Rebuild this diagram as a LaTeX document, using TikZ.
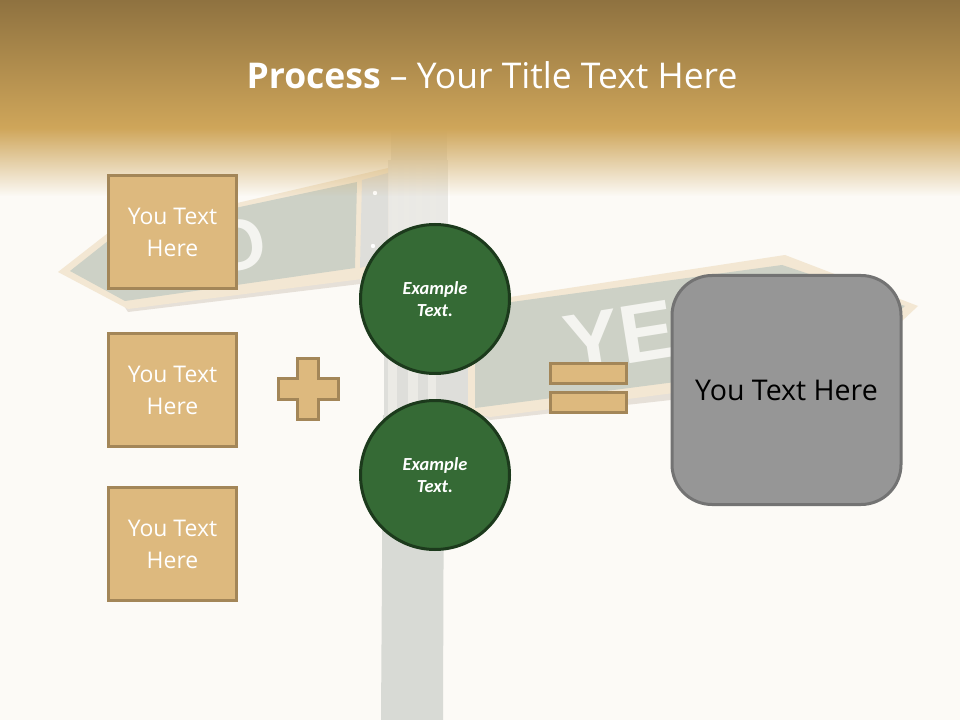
\documentclass[tikz,border=0pt]{standalone}
\usepackage{fontspec}
\setmainfont{Open Sans}
\newfontfamily\carl{Carlito}
\newfontfamily\signf{Liberation Sans}
\usetikzlibrary{fadings,shadings}
\definecolor{bgc}{HTML}{FCFAF6}
\definecolor{hdtop}{HTML}{8F7240}
\definecolor{hdbot}{HTML}{CFA65A}
\definecolor{boxf}{HTML}{DDB97E}
\definecolor{boxd}{HTML}{A38658}
\definecolor{circf}{HTML}{356A35}
\definecolor{circd}{HTML}{1C3A1C}
\definecolor{greyf}{HTML}{969696}
\definecolor{greyd}{HTML}{737373}
\definecolor{signo}{HTML}{F3E7D3}
\definecolor{signg}{HTML}{CDD1C6}
\definecolor{signt}{HTML}{F4F4F0}
\definecolor{signs}{HTML}{E6E0D8}
\definecolor{polec}{HTML}{D8DAD5}
\definecolor{plate}{HTML}{DEDEDA}
\definecolor{rib}{HTML}{EBEAE5}
\tikzfading[name=hdfade, top color=transparent!0, bottom color=transparent!100]
\tikzset{
  txtbox/.style={draw=boxd, line width=2.25pt*0.75, fill=boxf, minimum width=128*0.75pt, minimum height=113*0.75pt, inner sep=0pt, align=center, text=white, font=\fontsize{17.2}{24}\selectfont},
  excirc/.style={circle, draw=circd, line width=2.25pt, fill=circf, minimum size=149*0.75pt, inner sep=0pt, align=center, text=white, font=\carl\bfseries\itshape\fontsize{13.8}{17}\selectfont},
  symb/.style={draw=boxd, line width=2.25pt, fill=boxf},
  signtxt/.style={text=signt, inner sep=0pt, font=\signf\bfseries\fontsize{54}{54}\selectfont},
}
\begin{document}
\begin{tikzpicture}[x=0.75pt,y=-0.75pt]
\useasboundingbox (0,0) rectangle (960,720);
\fill[bgc] (0,0) rectangle (960,720);
% pole
\fill[polec] (383,415) -- (444,415) -- (443,720) -- (381,720) -- cycle;
\fill[plate!70!bgc] (391,125) rectangle (447,165);
\fill[plate!60!bgc] (388,160) rectangle (448,262);
\foreach \a/\b in {392/398,404/409,416/422,430/436}{\fill[rib] (\a,165) rectangle (\b,262);}
\fill[plate] (384,350) rectangle (470,420);
\foreach \a/\b in {388/397,408/418,428/436}{\fill[rib] (\a,350) rectangle (\b,420);}
\fill[white!60!bgc] (448,170) rectangle (450,230);
% NO sign
\fill[signs] (128,312) -- (360,284) -- (360,278) -- (120,300) -- cycle;
\fill[signo] (58,272) -- (108,233) -- (388,168) -- (388,258) -- (362,279) -- (128,309) -- cycle;
\fill[signg] (70,271) -- (118,233) -- (357,182) -- (355,268) -- (125,301) -- cycle;
\fill[plate] (362,180) -- (388,173) -- (388,260) -- (360,268) -- cycle;
\fill[white] (375,193) circle (2.2) (373,246) circle (2.2);
\node[signtxt, rotate=12, anchor=east] (nosign) at (265,240) {O};
% YES sign
\fill[signs] (472,410) -- (490,420) -- (680,399) -- (680,390) -- cycle;
\fill[signo] (468,301) -- (510,297) -- (785,255) -- (918,306) -- (850,370) -- (490,417) -- (468,412) -- cycle;
\fill[signg] (475,307) -- (782,265) -- (905,306) -- (845,360) -- (475,408) -- cycle;
\node[signtxt, rotate=9, anchor=west, scale=1.15] (yessign) at (565,345) {YES};
% header
\shade[top color=hdtop, bottom color=hdbot] (0,0) rectangle (960,129);
\fill[hdbot, path fading=hdfade] (0,128) rectangle (960,196);
\node[text=white, inner sep=0pt, font=\fontsize{26.6}{30}\selectfont] (title) at (492,75) {\textbf{Process} -- Your Title Text Here};
% text boxes
\node[txtbox] (b1) at (172.5,232) {You Text\\Here};
\node[txtbox] (b2) at (172.5,390) {You Text\\Here};
\node[txtbox] (b3) at (172.5,544) {You Text\\Here};
% circles
\node[excirc] (c1) at (435,299) {Example\\Text.};
\node[excirc] (c2) at (435,475) {Example\\Text.};
% plus
\draw[symb] (297,358) -- (318,358) -- (318,378) -- (338,378) -- (338,399) -- (318,399) -- (318,419) -- (297,419) -- (297,399) -- (278,399) -- (278,378) -- (297,378) -- cycle;
% equals
\node[symb, minimum width=76*0.75pt, minimum height=20*0.75pt, inner sep=0pt] (e1) at (588.5,373) {};
\node[symb, minimum width=76*0.75pt, minimum height=20*0.75pt, inner sep=0pt] (e2) at (588.5,402.5) {};
% result
\node[draw=greyd, line width=2.25pt, fill=greyf, rounded corners=30pt, minimum size=229*0.75pt, inner sep=0pt, text=black, font=\fontsize{21.4}{25}\selectfont] (res) at (786.5,390) {You Text Here};
\end{tikzpicture}
\end{document}
